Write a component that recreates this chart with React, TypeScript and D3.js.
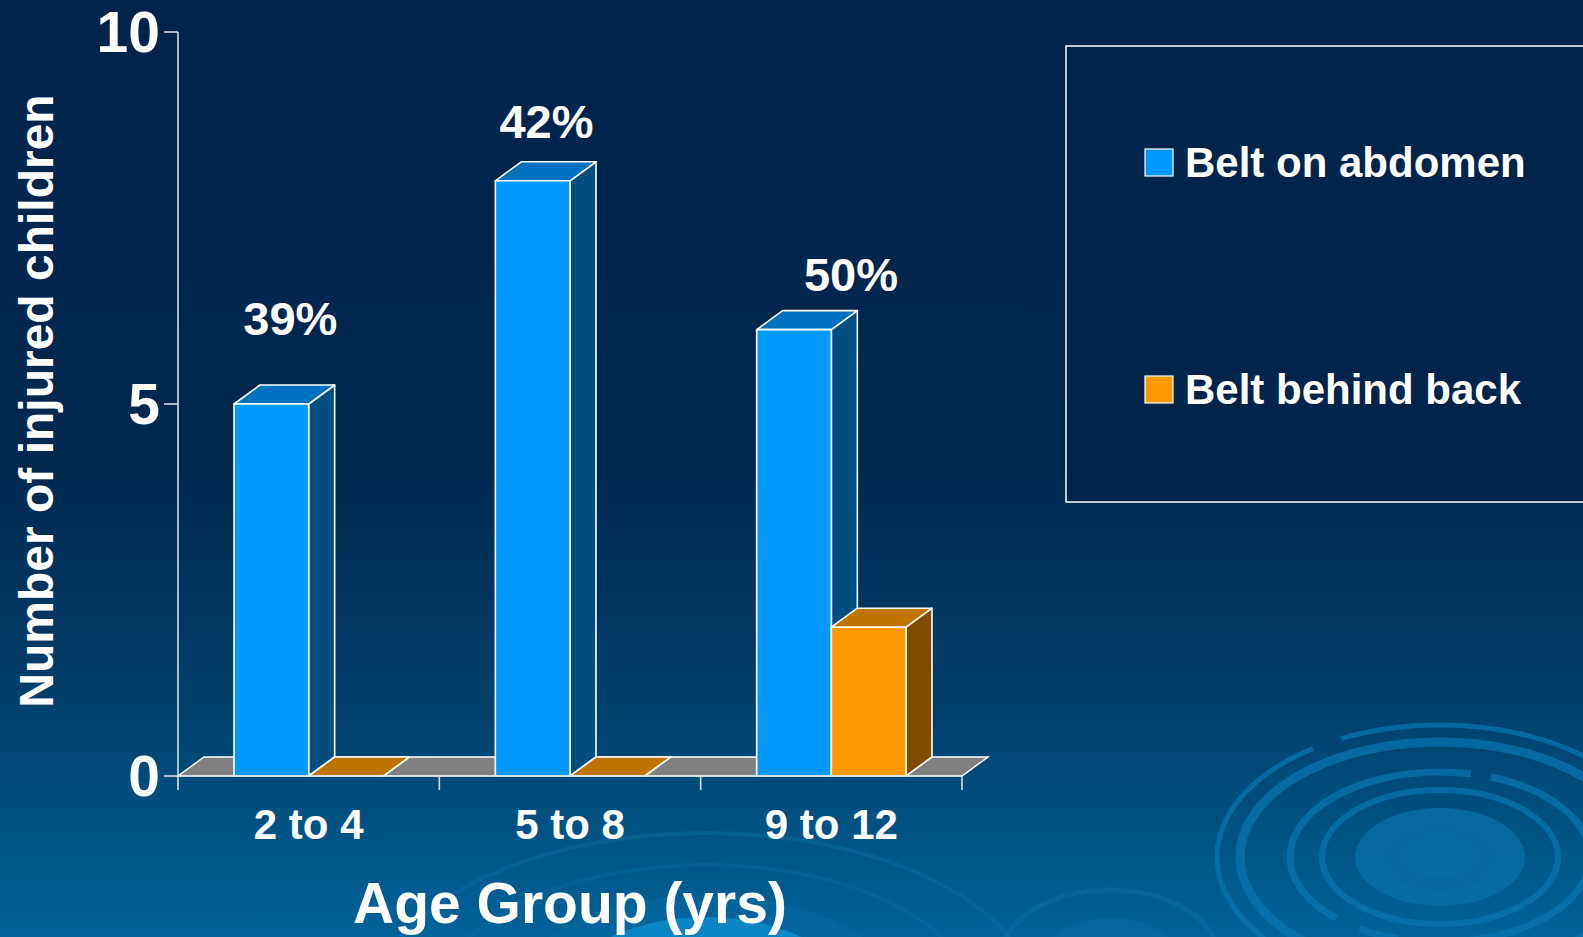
import * as d3 from "d3";

const W = 1583;
const H = 937;

const categories = ["2 to 4", "5 to 8", "9 to 12"];
const seriesNames = ["Belt on abdomen", "Belt behind back"];
const beltOnAbdomen = [5, 8, 6];
const beltBehindBack = [0, 0, 2];
const yTicks = [0, 5, 10];
const pctLabels = ["39%", "42%", "50%"];
// where the % labels sit: value units (y) and fraction of the band (x)
const pctLabelValue = [6.15, 8.8, 6.75];
const pctLabelBandPos = [0.43, 0.41, 0.575];

const FONT = "'Liberation Sans', Arial, Helvetica, sans-serif";

const faces = [
  { front: "#0099FF", top: "#0070C0", side: "#004F80" },
  { front: "#FF9900", top: "#C07400", side: "#804D00" },
];

function Ripples() {
  // decorative rings from the slide background
  const rings = [
    { rx: 223, ry: 132, w: 5, dash: "260 40 420 30" },
    { rx: 200, ry: 115, w: 9, dash: "" },
    { rx: 150, ry: 85, w: 7, dash: "200 30 40 25 300 20" },
    { rx: 118, ry: 67, w: 6, dash: "" },
  ];
  return (
    <g>
      <g transform="translate(1440,857)">
        {rings.map((r, i) => (
          <ellipse
            key={i}
            rx={r.rx}
            ry={r.ry}
            fill="none"
            stroke="#0a74b0"
            strokeOpacity={0.75}
            strokeWidth={r.w}
            strokeDasharray={r.dash || undefined}
          />
        ))}
        <ellipse rx={85} ry={49} fill="#076fa8" opacity={0.8} />
        <ellipse rx={60} ry={34} fill="#06699f" opacity={0.9} />
        <ellipse rx={35} ry={20} fill="#076ba3" />
      </g>
      <g transform="translate(706,1005)">
        <ellipse rx={330} ry={172} fill="none" stroke="#0a6fa8" strokeOpacity={0.45} strokeWidth={4} />
        <ellipse rx={270} ry={140} fill="none" stroke="#0a6fa8" strokeOpacity={0.4} strokeWidth={4} />
        <ellipse rx={200} ry={110} fill="#0a70aa" opacity={0.35} />
        <ellipse rx={150} ry={88} fill="#0d8dd0" opacity={0.8} />
        <ellipse rx={100} ry={60} fill="#10a0e8" opacity={0.8} />
      </g>
      <g transform="translate(1110,960)">
        <ellipse rx={110} ry={70} fill="none" stroke="#0a6fa8" strokeOpacity={0.5} strokeWidth={5} />
        <ellipse rx={70} ry={42} fill="#0a6ba3" opacity={0.5} />
      </g>
    </g>
  );
}

function Box({ x, w, y0, y1, dx, dy, c }) {
  const front = `M${x},${y0}L${x + w},${y0}L${x + w},${y1}L${x},${y1}Z`;
  const top = `M${x},${y1}L${x + dx},${y1 + dy}L${x + w + dx},${y1 + dy}L${x + w},${y1}Z`;
  const side = `M${x + w},${y0}L${x + w + dx},${y0 + dy}L${x + w + dx},${y1 + dy}L${x + w},${y1}Z`;
  return (
    <g stroke="#ffffff" strokeWidth={1.6} strokeLinejoin="round">
      <path d={side} fill={c.side} />
      <path d={top} fill={c.top} />
      <path d={front} fill={c.front} />
    </g>
  );
}

export default function App() {
  const left = 178;
  const right = 962;
  const dx = 26;
  const dy = -19;

  const y = d3.scaleLinear().domain([0, 10]).range([776, 32]);
  const x = d3.scaleBand().domain(categories).range([left, right]);
  const xs = d3
    .scaleBand()
    .domain(seriesNames)
    .range([0, x.bandwidth()])
    .paddingOuter(0.75);

  const values = [beltOnAbdomen, beltBehindBack];
  const y0 = y(0);

  const floor = `M${left},${y0}L${left + dx},${y0 + dy}L${right + dx},${y0 + dy}L${right},${y0}Z`;

  return (
    <svg
      width={W}
      height={H}
      style={{ position: "absolute", left: 0, top: 0, display: "block" }}
      fontFamily={FONT}
      fontWeight="bold"
    >
      <defs>
        <linearGradient id="bg" x1="0" y1="0" x2="0" y2="1">
          <stop offset="0" stopColor="#00234A" />
          <stop offset="0.5" stopColor="#00284F" />
          <stop offset="0.75" stopColor="#003F6B" />
          <stop offset="1" stopColor="#00639A" />
        </linearGradient>
      </defs>
      <rect width={W} height={H} fill="url(#bg)" />
      <Ripples />

      {/* floor */}
      <path d={floor} fill="#808080" stroke="#ffffff" strokeWidth={1.5} />

      {/* bars */}
      {categories.map((cat, i) => (
        <g key={cat}>
          {seriesNames.map((s, k) => (
            <Box
              key={s}
              x={x(cat) + xs(s)}
              w={xs.bandwidth()}
              y0={y0}
              y1={y(values[k][i])}
              dx={dx}
              dy={dy}
              c={faces[k]}
            />
          ))}
        </g>
      ))}

      {/* axes */}
      <g stroke="#d8dde4" strokeWidth={1.6}>
        <line x1={left} x2={left} y1={y(10)} y2={y0 + 14} />
        <line x1={left} x2={right} y1={y0} y2={y0} />
        {yTicks.map((t) => (
          <line key={t} x1={left - 14} x2={left} y1={y(t)} y2={y(t)} />
        ))}
        {categories.map((c) => (
          <line key={c} x1={x(c) + x.bandwidth()} x2={x(c) + x.bandwidth()} y1={y0} y2={y0 + 14} />
        ))}
      </g>

      <g fill="#ffffff">
        {yTicks.map((t) => (
          <text key={t} x={160} y={y(t) + 20} fontSize={57} textAnchor="end">
            {t}
          </text>
        ))}
        {categories.map((c) => (
          <text key={c} x={x(c) + x.bandwidth() / 2} y={839} fontSize={42} textAnchor="middle">
            {c}
          </text>
        ))}
        {pctLabels.map((p, i) => (
          <text
            key={p}
            x={x(categories[i]) + x.bandwidth() * pctLabelBandPos[i]}
            y={y(pctLabelValue[i]) + 17}
            fontSize={47}
            textAnchor="middle"
          >
            {p}
          </text>
        ))}
        <text x={(left + right) / 2} y={923} fontSize={57} textAnchor="middle">
          Age Group (yrs)
        </text>
        <text transform="translate(53,401) rotate(-90)" fontSize={48} textAnchor="middle">
          Number of injured children
        </text>
      </g>

      {/* legend */}
      <rect x={1066} y={46} width={560} height={456} fill="#00244A" stroke="#ffffff" strokeWidth={1.5} />
      {seriesNames.map((s, k) => (
        <g key={s} transform={`translate(1145,${149 + k * 227})`}>
          <rect width={28} height={27} fill={faces[k].front} stroke="#ffffff" strokeWidth={1.2} />
          <text x={40} y={28} fontSize={42} fill="#ffffff">
            {s}
          </text>
        </g>
      ))}
    </svg>
  );
}
